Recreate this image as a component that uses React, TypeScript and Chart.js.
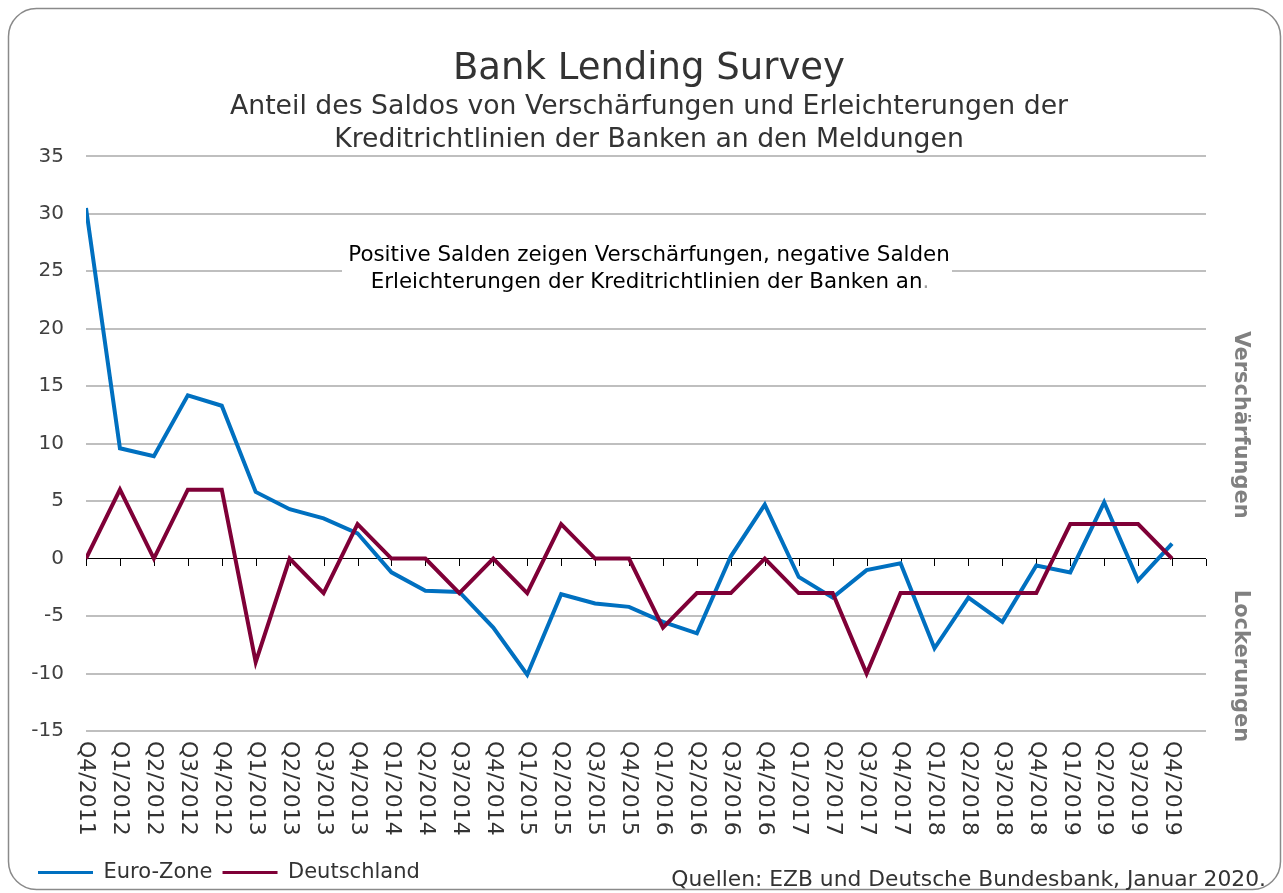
import React, { useEffect, useRef } from "react";
import { Chart, registerables } from "chart.js";

Chart.register(...registerables);

const FONT = "'DejaVu Sans', Verdana, sans-serif";

const categories = [
  "Q4/2011",
  "Q1/2012", "Q2/2012", "Q3/2012", "Q4/2012",
  "Q1/2013", "Q2/2013", "Q3/2013", "Q4/2013",
  "Q1/2014", "Q2/2014", "Q3/2014", "Q4/2014",
  "Q1/2015", "Q2/2015", "Q3/2015", "Q4/2015",
  "Q1/2016", "Q2/2016", "Q3/2016", "Q4/2016",
  "Q1/2017", "Q2/2017", "Q3/2017", "Q4/2017",
  "Q1/2018", "Q2/2018", "Q3/2018", "Q4/2018",
  "Q1/2019", "Q2/2019", "Q3/2019", "Q4/2019",
];

const euroZone = [
  30.5, 9.6, 8.9, 14.2, 13.3, 5.8, 4.3, 3.5, 2.2, -1.2, -2.8, -2.9, -6.0,
  -10.1, -3.1, -3.9, -4.2, -5.5, -6.5, 0.2, 4.7, -1.6, -3.4, -1.0, -0.4,
  -7.8, -3.4, -5.5, -0.6, -1.2, 4.9, -1.9, 1.3,
];

const deutschland = [
  0, 6, 0, 6, 6, -9, 0, -3, 3, 0, 0, -3, 0, -3, 3, 0, 0, -6, -3, -3, 0, -3,
  -3, -10, -3, -3, -3, -3, -3, 3, 3, 3, 0,
];

const seriesNames = ["Euro-Zone", "Deutschland"];
const seriesColors = ["#0070C0", "#7F0037"];

const yMin = -15;
const yMax = 35;
const yStep = 5;

const titleText = "Bank Lending Survey";
const subtitleLines = [
  "Anteil des Saldos von Verschärfungen und Erleichterungen der",
  "Kreditrichtlinien der Banken an den Meldungen",
];
const noteLines = [
  "Positive Salden zeigen Verschärfungen, negative Salden",
  "Erleichterungen der Kreditrichtlinien der Banken an",
];
const sideLabels = ["Verschärfungen", "Lockerungen"];
const sourceText = "Quellen: EZB und Deutsche Bundesbank, Januar 2020.";

const decorations = {
  id: "decorations",
  beforeDraw(chart: any) {
    const ctx = chart.ctx;
    ctx.save();
    ctx.strokeStyle = "#8a8a8a";
    ctx.lineWidth = 1.5;
    ctx.beginPath();
    ctx.roundRect(8.5, 8.5, 1272, 881, 28);
    ctx.stroke();
    ctx.restore();
  },
  beforeDatasetsDraw(chart: any) {
    const { ctx, scales } = chart;
    const x = scales.x;
    const y = scales.y;
    ctx.save();
    // note box
    ctx.fillStyle = "#ffffff";
    ctx.fillRect(342, 238, 610, 60);
    ctx.font = `21.4px ${FONT}`;
    ctx.fillStyle = "#000";
    ctx.textAlign = "center";
    ctx.textBaseline = "middle";
    ctx.fillText(noteLines[0], 649, 255);
    const w = ctx.measureText(noteLines[1]).width;
    const dotW = ctx.measureText(".").width;
    ctx.textAlign = "left";
    const startX = 650 - (w + dotW) / 2;
    ctx.fillText(noteLines[1], startX, 282);
    ctx.fillStyle = "#a0a0a0";
    ctx.fillText(".", startX + w, 282);
    // tick marks on zero line
    const y0 = Math.round(y.getPixelForValue(0));
    ctx.strokeStyle = "#000";
    ctx.lineWidth = 1;
    for (let i = 0; i <= categories.length; i++) {
      const px = Math.round(x.getPixelForValue(i)) + 0.5;
      ctx.beginPath();
      ctx.moveTo(px, y0);
      ctx.lineTo(px, y0 + 7);
      ctx.stroke();
    }
    ctx.restore();
  },
  afterDraw(chart: any) {
    const { ctx, scales } = chart;
    const x = scales.x;
    const y = scales.y;
    ctx.save();
    // x labels rotated clockwise
    ctx.font = `22px ${FONT}`;
    ctx.fillStyle = "#333333";
    ctx.textAlign = "left";
    ctx.textBaseline = "middle";
    categories.forEach((c, i) => {
      const px = x.getPixelForValue(i);
      ctx.save();
      ctx.translate(px, y.bottom + 10);
      ctx.rotate(Math.PI / 2);
      ctx.fillText(c, 0, 0);
      ctx.restore();
    });
    // side labels
    ctx.font = `bold 21px ${FONT}`;
    ctx.fillStyle = "#808080";
    ctx.textAlign = "center";
    const sidePos = [425, 666];
    sideLabels.forEach((s, i) => {
      ctx.save();
      ctx.translate(1240, sidePos[i]);
      ctx.rotate(Math.PI / 2);
      ctx.fillText(s, 0, 0);
      ctx.restore();
    });
    // source
    ctx.font = `21.8px ${FONT}`;
    ctx.fillStyle = "#333333";
    ctx.textAlign = "right";
    ctx.fillText(sourceText, 1266, 880);
    ctx.restore();
  },
};

export default function App() {
  const canvasRef = useRef<HTMLCanvasElement | null>(null);

  useEffect(() => {
    const canvas = canvasRef.current;
    if (!canvas) return;
    const chart = new Chart(canvas, {
      type: "line",
      data: {
        datasets: [
          {
            label: seriesNames[0],
            data: euroZone.map((v, i) => ({ x: i, y: v })),
            borderColor: seriesColors[0],
            backgroundColor: seriesColors[0],
            borderWidth: 4,
            pointRadius: 0,
            tension: 0,
            order: 1,
          },
          {
            label: seriesNames[1],
            data: deutschland.map((v, i) => ({ x: i, y: v })),
            borderColor: seriesColors[1],
            backgroundColor: seriesColors[1],
            borderWidth: 4,
            pointRadius: 0,
            tension: 0,
            order: 0,
          },
        ],
      },
      options: {
        responsive: false,
        animation: false,
        devicePixelRatio: 1,
        layout: { padding: { left: 28, right: 13, top: 0, bottom: 0 } },
        plugins: {
          tooltip: { enabled: false },
          title: {
            display: true,
            text: titleText,
            color: "#333333",
            font: { family: FONT, size: 37, weight: "normal", lineHeight: 1.1 },
            padding: { top: 48.6, bottom: 0 },
          },
          subtitle: {
            display: true,
            text: subtitleLines,
            color: "#333333",
            font: { family: FONT, size: 26.7, weight: "normal", lineHeight: 33 / 26.7 },
            padding: { top: 1, bottom: 0 },
          },
          legend: {
            display: true,
            position: "bottom",
            align: "start",
            labels: {
              boxWidth: 55,
              boxHeight: 3,
              padding: 10,
              color: "#333333",
              font: { family: FONT, size: 21 },
              sort: (a: any, b: any) => a.datasetIndex - b.datasetIndex,
              generateLabels: (ch: any) =>
                Chart.defaults.plugins.legend.labels
                  .generateLabels(ch)
                  .map((it: any) => ({ ...it, lineWidth: 0 })),
            },
          },
        },
        scales: {
          x: {
            type: "linear",
            min: 0,
            max: categories.length,
            ticks: { display: false },
            grid: { display: false },
            border: { display: false },
            afterFit: (scale: any) => {
              scale.height = 121;
            },
          },
          y: {
            type: "linear",
            min: yMin,
            max: yMax,
            ticks: {
              stepSize: yStep,
              padding: 22,
              color: "#404040",
              font: { family: FONT, size: 20 },
              callback: (v: any) => String(v),
            },
            grid: {
              drawTicks: false,
              color: (c: any) => (c.tick && c.tick.value === 0 ? "#000000" : "#bfbfbf"),
              lineWidth: (c: any) => (c.tick && c.tick.value === 0 ? 1 : 2),
            },
            border: { display: false },
            afterFit: (scale: any) => {
              scale.width = 58;
            },
          },
          yRight: {
            type: "linear",
            position: "right",
            display: true,
            min: yMin,
            max: yMax,
            ticks: { display: false },
            grid: { display: false, drawTicks: false },
            border: { display: false },
            afterFit: (scale: any) => {
              scale.width = 64;
            },
          },
        },
      },
      plugins: [decorations],
    } as any);
    return () => chart.destroy();
  }, []);

  return (
    <canvas
      ref={canvasRef}
      width={1283}
      height={893}
      style={{ position: "absolute", left: 0, top: 0, display: "block" }}
    />
  );
}
